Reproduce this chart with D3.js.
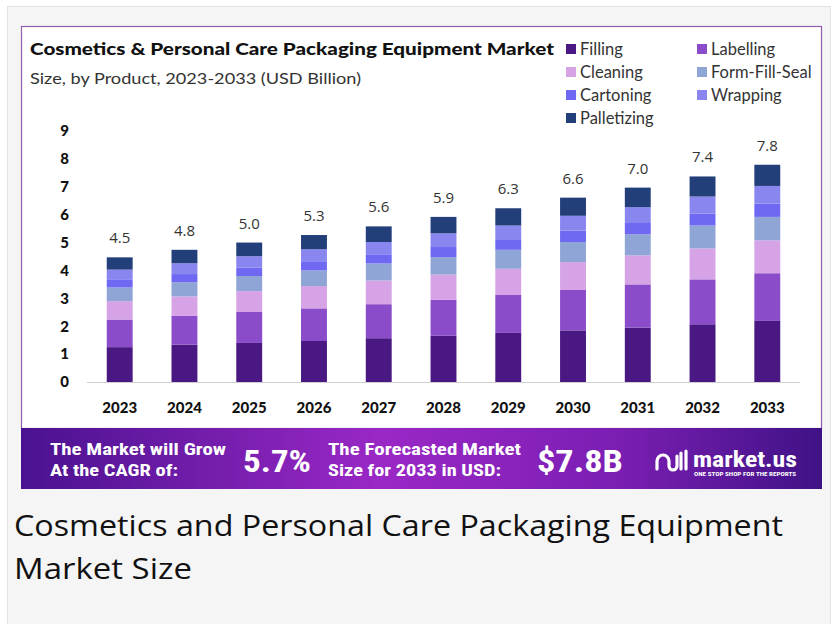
<!DOCTYPE html>
<html>
<head>
<meta charset="utf-8">
<title>Cosmetics & Personal Care Packaging Equipment Market</title>
<script src="https://cdn.jsdelivr.net/npm/d3@7"></script>
<style>
	html, body { margin: 0; padding: 0; background: #fff; }
	svg { display: block; }
</style>
</head>
<body>
<div id="chart"></div>
<script>
// years on the x axis
var years = ["2023","2024","2025","2026","2027","2028","2029","2030","2031","2032","2033"];
var totals = ["4.5","4.8","5.0","5.3","5.6","5.9","6.3","6.6","7.0","7.4","7.8"];

// segment values, USD billion
var filling     = [1.25, 1.34, 1.40, 1.47, 1.57, 1.66, 1.76, 1.85, 1.95, 2.07, 2.19];
var labelling   = [0.99, 1.03, 1.11, 1.17, 1.22, 1.29, 1.36, 1.45, 1.55, 1.61, 1.71];
var cleaning    = [0.66, 0.70, 0.75, 0.80, 0.85, 0.90, 0.94, 1.00, 1.04, 1.11, 1.18];
var formFill    = [0.49, 0.51, 0.54, 0.56, 0.61, 0.63, 0.68, 0.72, 0.76, 0.82, 0.84];
var cartoning   = [0.27, 0.29, 0.30, 0.33, 0.33, 0.36, 0.38, 0.41, 0.43, 0.43, 0.48];
var wrapping    = [0.37, 0.39, 0.41, 0.43, 0.44, 0.49, 0.49, 0.53, 0.54, 0.61, 0.63];
var palletizing = [0.44, 0.48, 0.49, 0.51, 0.56, 0.59, 0.62, 0.65, 0.70, 0.72, 0.76];

var yTicks = [0,1,2,3,4,5,6,7,8,9];

var keys = ["Filling","Labelling","Cleaning","Form-Fill-Seal","Cartoning","Wrapping","Palletizing"];
var series = [filling, labelling, cleaning, formFill, cartoning, wrapping, palletizing];
var colors = ["#4a1882","#8a4cc8","#d6a3e6","#8fa5d6","#6e68f2","#8a86f0","#233f7a"];

var W = 838, H = 624;

var rows = years.map(function(y, i) {
	var r = {year: y};
	keys.forEach(function(k, j) { r[k] = series[j][i]; });
	return r;
});

var svg = d3.select("#chart").append("svg")
	.attr("width", W)
	.attr("height", H);

// page frame
svg.append("rect").attr("x", 7.5).attr("y", 6.5).attr("width", 823).attr("height", 630)
	.attr("fill", "#f5f5f5").attr("stroke", "#e2e2e2");

// chart card
svg.append("rect").attr("x", 21.5).attr("y", 26.5).attr("width", 800).attr("height", 402)
	.attr("fill", "#fff").attr("stroke", "#8d5fae").attr("stroke-width", 1.2);

// titles
svg.append("text").attr("x", 30).attr("y", 55)
	.attr("font-family", "Lato, 'Open Sans', sans-serif").attr("font-weight", 900)
	.attr("font-size", 16).attr("fill", "#111")
	.attr("textLength", 524).attr("lengthAdjust", "spacingAndGlyphs")
	.text("Cosmetics & Personal Care Packaging Equipment Market");
svg.append("text").attr("x", 30).attr("y", 84)
	.attr("font-family", "Lato, 'Open Sans', sans-serif")
	.attr("font-size", 15.5).attr("fill", "#333")
	.attr("textLength", 331).attr("lengthAdjust", "spacingAndGlyphs")
	.text("Size, by Product, 2023-2033 (USD Billion)");

// legend
var legOrder = ["Filling","Labelling","Cleaning","Form-Fill-Seal","Cartoning","Wrapping","Palletizing"];
var leg = svg.append("g").selectAll("g").data(legOrder).enter().append("g")
	.attr("transform", function(d, i) {
		return "translate(" + (i % 2 ? 697 : 566) + "," + (49 + Math.floor(i / 2) * 23) + ")";
	});
leg.append("rect").attr("x", 0).attr("y", -5).attr("width", 10).attr("height", 10)
	.attr("fill", function(d) { return colors[keys.indexOf(d)]; });
leg.append("text").attr("x", 14).attr("y", 5.5)
	.attr("font-family", "Lato, 'Open Sans', sans-serif").attr("font-size", 16.5).attr("fill", "#333")
	.text(function(d) { return d; });

// scales
var x = d3.scaleBand().domain(years).range([87, 800]).paddingInner(0.6).paddingOuter(0.305);
var y = d3.scaleLinear().domain([0, 9]).range([382, 131]);

var stack = d3.stack().keys(keys)(rows);

// baseline
svg.append("line").attr("x1", 87).attr("x2", 800).attr("y1", 382.5).attr("y2", 382.5)
	.attr("stroke", "#cfcfcf").attr("stroke-width", 1);

svg.append("g").selectAll("g").data(stack).enter().append("g")
	.attr("fill", function(d, i) { return colors[i]; })
	.selectAll("rect").data(function(d) { return d; }).enter().append("rect")
	.attr("x", function(d) { return x(d.data.year); })
	.attr("width", x.bandwidth())
	.attr("y", function(d) { return y(d[1]); })
	.attr("height", function(d) { return y(d[0]) - y(d[1]); });

// total labels
svg.append("g").selectAll("text").data(rows).enter().append("text")
	.attr("x", function(d) { return x(d.year) + x.bandwidth() / 2; })
	.attr("y", function(d, i) { return y(d3.sum(series, function(s) { return s[i]; })) - 14; })
	.attr("text-anchor", "middle")
	.attr("font-family", "'Open Sans', sans-serif").attr("font-size", 15).attr("fill", "#333")
	.text(function(d, i) { return totals[i]; });

// y axis (labels only)
var yAxis = svg.append("g").attr("transform", "translate(69,0)")
	.call(d3.axisLeft(y).tickValues(yTicks).tickSize(0).tickPadding(0).tickFormat(d3.format("d")));
yAxis.select(".domain").remove();
yAxis.selectAll("text").attr("font-family", "Lato, 'Open Sans', sans-serif")
	.attr("font-weight", 900).attr("font-size", 15).attr("fill", "#111");

// x axis (labels only)
var xAxis = svg.append("g").attr("transform", "translate(0,402)")
	.call(d3.axisBottom(x).tickSize(0).tickPadding(0));
xAxis.select(".domain").remove();
xAxis.selectAll("text").attr("font-family", "Lato, 'Open Sans', sans-serif")
	.attr("font-weight", 900).attr("font-size", 15).attr("fill", "#111");

// banner
var defs = svg.append("defs");
var grad = defs.append("linearGradient").attr("id", "ban").attr("x1", "0").attr("x2", "1");
grad.append("stop").attr("offset", "0").attr("stop-color", "#4a1290");
grad.append("stop").attr("offset", "0.45").attr("stop-color", "#9a28c6");
grad.append("stop").attr("offset", "0.75").attr("stop-color", "#7a1eb2");
grad.append("stop").attr("offset", "1").attr("stop-color", "#3f1286");
svg.append("rect").attr("x", 21).attr("y", 428).attr("width", 801).attr("height", 61)
	.attr("fill", "url(#ban)");

var bFont = "'Liberation Sans Narrow', 'Roboto Condensed', Roboto, sans-serif";
function btext(xp, yp, size, s, len) {
	var t = svg.append("text").attr("x", xp).attr("y", yp)
		.attr("font-family", bFont).attr("font-weight", 700)
		.attr("font-size", size).attr("fill", "#fff").text(s);
	if (len) t.attr("textLength", len).attr("lengthAdjust", "spacingAndGlyphs");
	return t;
}
btext(50, 455, 17, "The Market will Grow", 176);
btext(50, 476, 17, "At the CAGR of:", 128);
btext(243, 472, 32, "5.7%", 68);
btext(328, 455, 17, "The Forecasted Market", 193);
btext(328, 476, 17, "Size for 2033 in USD:", 173);
btext(537, 472, 32, "$7.8B", 86);

// logo mark
svg.append("path")
	.attr("d", "M657,469 v-8 a6,6 0 0 1 12,0 v5 a4,4 0 0 0 8,0 v-10 M681,453 v16 M686,451 v18")
	.attr("fill", "none").attr("stroke", "#fff").attr("stroke-width", 3.2).attr("stroke-linecap", "round");
btext(693, 467, 22, "market.us", 104);
btext(694, 476, 4.5, "ONE STOP SHOP FOR THE REPORTS", 102);

// caption
svg.append("text").attr("x", 14).attr("y", 536)
	.attr("font-family", "'Open Sans', sans-serif").attr("font-size", 29).attr("fill", "#111")
	.attr("textLength", 769).attr("lengthAdjust", "spacingAndGlyphs")
	.text("Cosmetics and Personal Care Packaging Equipment");
svg.append("text").attr("x", 14).attr("y", 579)
	.attr("font-family", "'Open Sans', sans-serif").attr("font-size", 29).attr("fill", "#111")
	.attr("textLength", 178).attr("lengthAdjust", "spacingAndGlyphs")
	.text("Market Size");
</script>
</body>
</html>
